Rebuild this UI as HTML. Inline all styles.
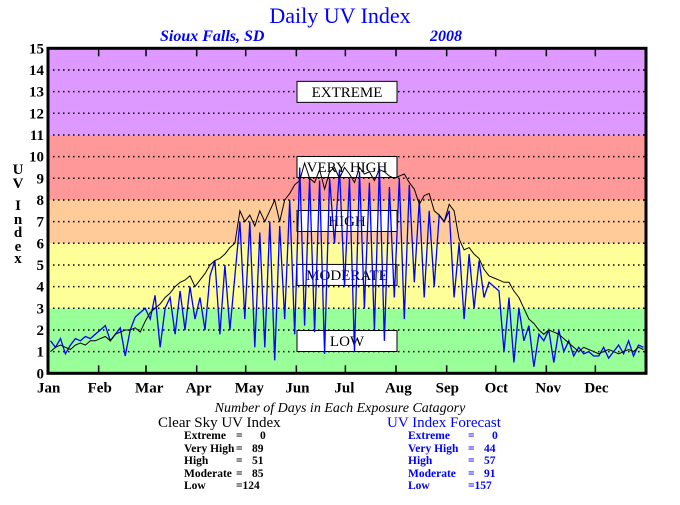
<!DOCTYPE html>
<html><head><meta charset="utf-8"><style>
body{margin:0;background:#fff;}
svg text{font-family:"Liberation Serif",serif;}
</style></head><body>
<svg id="chart" width="680" height="500" viewBox="0 0 680 500" xmlns="http://www.w3.org/2000/svg">
<text x="340" y="23" text-anchor="middle" font-size="22" fill="#0000ff">Daily UV Index</text>
<text x="160" y="41" font-size="16" font-style="italic" font-weight="bold" fill="#0000ff">Sioux Falls, SD</text>
<text x="430" y="41" font-size="16" font-style="italic" font-weight="bold" fill="#0000ff">2008</text>
<g id="bands"></g>
<g id="grid"></g>
<g id="labels"></g>
<g id="series"></g>
<g id="axes"></g>
<g font-size="15" font-weight="bold" text-anchor="middle">
<text x="18" y="174">U</text><text x="18" y="188">V</text><text x="18" y="210">I</text><text x="18" y="224">n</text><text x="18" y="237">d</text><text x="18" y="251">e</text><text x="18" y="263">x</text>
</g>
<text x="340" y="412" text-anchor="middle" font-size="14" font-style="italic">Number of Days in Each Exposure Catagory</text>
<text x="158" y="427" font-size="15">Clear Sky UV Index</text>
<text x="387" y="427" font-size="15" fill="#0000ff">UV Index Forecast</text>
<g font-size="11.5" font-weight="bold">
<text x="184" y="439">Extreme</text><text x="236" y="439">=</text><text x="260" y="439">0</text>
<text x="184" y="452">Very High</text><text x="236" y="452">=</text><text x="252" y="452">89</text>
<text x="184" y="464">High</text><text x="236" y="464">=</text><text x="252" y="464">51</text>
<text x="184" y="477">Moderate</text><text x="236" y="477">=</text><text x="252" y="477">85</text>
<text x="184" y="489">Low</text><text x="236" y="489">=124</text>
</g>
<g font-size="11.5" font-weight="bold" fill="#0000ff">
<text x="408" y="439">Extreme</text><text x="468" y="439">=</text><text x="492" y="439">0</text>
<text x="408" y="452">Very High</text><text x="468" y="452">=</text><text x="484" y="452">44</text>
<text x="408" y="464">High</text><text x="468" y="464">=</text><text x="484" y="464">57</text>
<text x="408" y="477">Moderate</text><text x="468" y="477">=</text><text x="484" y="477">91</text>
<text x="408" y="489">Low</text><text x="468" y="489">=157</text>
</g>
</svg>
<script>
const months=["Jan","Feb","Mar","Apr","May","Jun","Jul","Aug","Sep","Oct","Nov","Dec"];
const monthStartDays=[0,31,60,91,121,152,182,213,244,274,305,335];
const yTicks=[0,1,2,3,4,5,6,7,8,9,10,11,12,13,14,15];
const bandLimits=[0,3,6,8,11,15];
const bandNames=["LOW","MODERATE","HIGH","VERY HIGH","EXTREME"];
const bandLabelValues=[1.49,4.54,7.03,9.52,12.99];
const clearSky=[1.0,1.2,1.3,1.2,1.1,1.3,1.4,1.3,1.5,1.5,
1.6,1.7,1.5,1.8,1.9,2.0,2.0,2.1,1.9,2.4,
2.8,3.0,3.2,3.5,3.7,4.0,4.2,4.3,4.5,4.0,
4.3,4.6,5.0,5.2,5.3,5.5,5.8,6.0,7.5,7.0,
7.3,6.8,7.5,7.0,7.5,8.0,7.0,8.0,8.3,8.7,
8.9,9.7,9.0,8.8,9.4,8.5,9.3,9.5,9.0,9.5,
9.2,8.8,9.5,9.2,9.3,8.9,9.4,9.3,9.1,9.0,
9.1,9.2,8.8,8.5,7.8,8.2,8.3,7.5,7.3,7.0,
7.8,7.5,6.2,5.7,5.8,5.5,5.3,4.8,4.5,4.4,
4.3,4.2,4.2,3.8,3.5,3.0,2.5,2.3,2.0,1.8,
2.0,1.9,1.8,1.6,1.4,1.2,1.0,1.2,1.1,1.0,
0.9,1.0,1.1,1.0,0.9,1.0,1.1,1.0,1.2,1.1];
const forecast=[1.5,1.2,1.6,0.9,1.3,1.6,1.5,1.7,1.6,1.8,
2.0,2.2,1.5,1.8,2.1,0.8,2.0,2.6,2.8,3.0,
2.5,3.6,1.2,3.0,3.5,1.8,3.8,2.0,4.0,2.5,
3.5,2.0,4.5,5.2,1.8,5.0,2.0,4.5,7.0,2.5,
7.0,1.2,6.5,1.2,7.0,0.6,6.8,2.5,8.0,1.8,
9.5,2.2,9.0,1.9,8.9,0.9,9.0,6.0,9.4,4.0,
9.0,1.0,9.3,3.0,8.8,2.0,9.5,1.5,8.6,3.5,
9.0,2.5,8.7,4.2,8.0,3.5,7.5,4.0,7.3,7.0,
7.5,3.5,6.0,2.5,5.5,3.0,5.2,3.5,4.2,4.0,
3.8,1.0,3.5,0.5,3.0,1.5,2.2,0.3,1.8,1.5,
2.0,0.5,2.0,1.0,1.5,0.8,1.2,0.9,1.0,0.8,
0.8,1.2,0.7,1.0,1.3,0.9,1.5,0.8,1.3,1.2];
const X0=48,X1=646,Y0=373.3,Y1=48.3;
const x=d=>X0+d/366*(X1-X0);
const y=v=>Y0+(v/15)*(Y1-Y0);
const NS="http://www.w3.org/2000/svg";
function mk(tag,parent,attrs){const e=document.createElementNS(NS,tag);for(const k in attrs)e.setAttribute(k,attrs[k]);parent.appendChild(e);return e;}
const bandColors=["#99ff99","#ffff99","#ffcc99","#ff9999","#dd99ff"];
const gB=document.getElementById("bands");
for(let i=0;i<5;i++){const r=mk("rect",gB,{x:X0,y:y(bandLimits[i+1]),width:X1-X0,height:y(bandLimits[i])-y(bandLimits[i+1]),fill:bandColors[i]});

}
const gG=document.getElementById("grid");
const gA=document.getElementById("axes");
yTicks.forEach(t=>{
 if(t>0&&t<15){const l=mk("line",gG,{x1:X0,x2:X1,y1:y(t),y2:y(t),stroke:"#000","stroke-width":1.5,"stroke-dasharray":"1.5 3.5"});
 
 }
 const tx=mk("text",gA,{x:X0-4,y:y(t)+5,"text-anchor":"end","font-size":15,"font-weight":"bold"});
 tx.textContent=t;
 
 
});
const gL=document.getElementById("labels");
bandNames.forEach((n,i)=>{const cy=y(bandLabelValues[i]);
 const r=mk("rect",gL,{x:297,y:cy-10.5,width:100,height:21,fill:"#fff",stroke:"#000","stroke-width":1});
 
 
 const t=mk("text",gL,{x:347,y:cy+5,"text-anchor":"middle","font-size":15});
 t.textContent=n;
 
 });
const gS=document.getElementById("series");
function pts(arr){return arr.map((v,i)=>x((i+0.5)*366/arr.length).toFixed(1)+","+y(v).toFixed(1)).join(" ");}
const pb=mk("polyline",gS,{points:pts(forecast),fill:"none",stroke:"#0000ff","stroke-width":1.3});


const pk=mk("polyline",gS,{points:pts(clearSky),fill:"none",stroke:"#000","stroke-width":1});


const fr=mk("rect",gA,{x:X0,y:Y1,width:X1-X0,height:Y0-Y1,fill:"none",stroke:"#000","stroke-width":3});


months.forEach((m,i)=>{const xx=x(monthStartDays[i]);
 if(i>0){const a=mk("line",gA,{x1:xx,x2:xx,y1:Y1,y2:Y1+8,stroke:"#000","stroke-width":1.5});
 
 
 const b=mk("line",gA,{x1:xx,x2:xx,y1:Y0,y2:Y0-8,stroke:"#000","stroke-width":1.5});
 
 }
 const t=mk("text",gA,{x:xx-11,y:Y0+19,"font-size":15,"font-weight":"bold"});
 t.textContent=m;
 
 });
</script>
</body></html>
